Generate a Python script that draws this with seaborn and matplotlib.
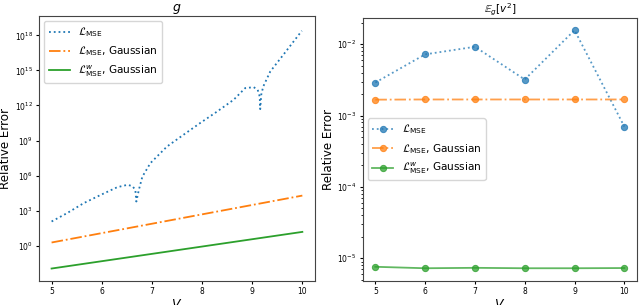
import seaborn as sns
import matplotlib.pyplot as plt
import pandas as pd
import numpy as np

# left panel: relative error of g over V (values stored as log10)
v_mse = [5.0, 5.31, 5.64, 5.98, 6.31, 6.51, 6.61, 6.67, 6.69, 6.74, 6.81, 6.97,
         7.30, 7.63, 7.96, 8.30, 8.63, 8.86, 9.03, 9.11, 9.15, 9.16, 9.18, 9.22,
         9.36, 9.62, 9.99]
mse_log10 = [2.06, 2.78, 3.63, 4.34, 5.0, 5.2, 5.1, 4.77, 3.77, 4.77, 5.9, 7.06,
             8.48, 9.49, 10.49, 11.48, 12.49, 13.49, 13.57, 13.34, 12.77, 11.69, 12.91, 13.62,
             14.91, 16.34, 18.4]
v_gauss = [5.0, 10.0]
gauss_log10 = [0.26, 4.28]
wgauss_log10 = [-1.97, 1.17]

# right panel: relative error of E_g[v^2]
v_int = [5, 6, 7, 8, 9, 10]
e_mse = [2.9e-3, 7.2e-3, 9.2e-3, 3.2e-3, 1.57e-2, 7.0e-4]
e_gauss = [1.67e-3, 1.68e-3, 1.68e-3, 1.68e-3, 1.68e-3, 1.68e-3]
e_wgauss = [7.6e-6, 7.25e-6, 7.35e-6, 7.25e-6, 7.25e-6, 7.3e-6]

lab1 = r'$\mathcal{L}_{\mathrm{MSE}}$'
lab2 = r'$\mathcal{L}_{\mathrm{MSE}}$, Gaussian'
lab3 = r'$\mathcal{L}^{w}_{\mathrm{MSE}}$, Gaussian'
c = sns.color_palette('tab10')

fig = plt.figure(figsize=(6.4, 3.05), dpi=100)
ax1 = fig.add_axes([0.061, 0.079, 0.431, 0.869])
ax2 = fig.add_axes([0.567, 0.079, 0.428, 0.862])

sns.lineplot(x=v_mse, y=10.0 ** np.array(mse_log10), ax=ax1, color=c[0],
             linestyle=':', lw=1.3, label=lab1)
sns.lineplot(x=v_gauss, y=10.0 ** np.array(gauss_log10), ax=ax1, color=c[1],
             linestyle='-.', lw=1.3, label=lab2)
sns.lineplot(x=v_gauss, y=10.0 ** np.array(wgauss_log10), ax=ax1, color=c[2],
             linestyle='-', lw=1.3, label=lab3)
ax1.set_yscale('log')
ax1.set_xlim(4.75, 10.25)
ax1.set_ylim(10 ** -3.03, 10 ** 19.68)
ax1.set_yticks([10.0 ** k for k in range(0, 19, 3)])
ax1.minorticks_off()
ax1.set_title('$g$', fontsize=9, pad=3)
ax1.set_xlabel('$V$', fontsize=9, labelpad=1)
ax1.set_ylabel('Relative Error', fontsize=8.6, labelpad=2)
ax1.legend(loc='upper left', fontsize=7.6, framealpha=0.8)

for vals, ls, col, lab in [(e_mse, ':', c[0], lab1), (e_gauss, '-.', c[1], lab2),
                           (e_wgauss, '-', c[2], lab3)]:
    df = pd.DataFrame({'V': v_int, 'err': vals})
    sns.lineplot(data=df, x='V', y='err', ax=ax2, color=col, linestyle=ls,
                 lw=1.3, marker='o', markersize=4.5, markeredgecolor=col,
                 alpha=0.75, label=lab)
ax2.set_yscale('log')
ax2.set_xlim(4.75, 10.25)
ax2.set_ylim(10 ** -5.317, 10 ** -1.633)
ax2.set_title(r'$\mathbb{E}_g[v^2]$', fontsize=7.5, pad=0.5)
ax2.set_xlabel('$V$', fontsize=9, labelpad=1)
ax2.set_ylabel('Relative Error', fontsize=8.6, labelpad=2)
ax2.legend(loc='center left', fontsize=7.6, framealpha=0.8)

for ax in (ax1, ax2):
    ax.tick_params(labelsize=5.5, length=2.5, pad=2)
    ax.tick_params(which='minor', length=1.5)
    for s in ax.spines.values():
        s.set_color('#444444')

fig.savefig('out.png', dpi=100)
